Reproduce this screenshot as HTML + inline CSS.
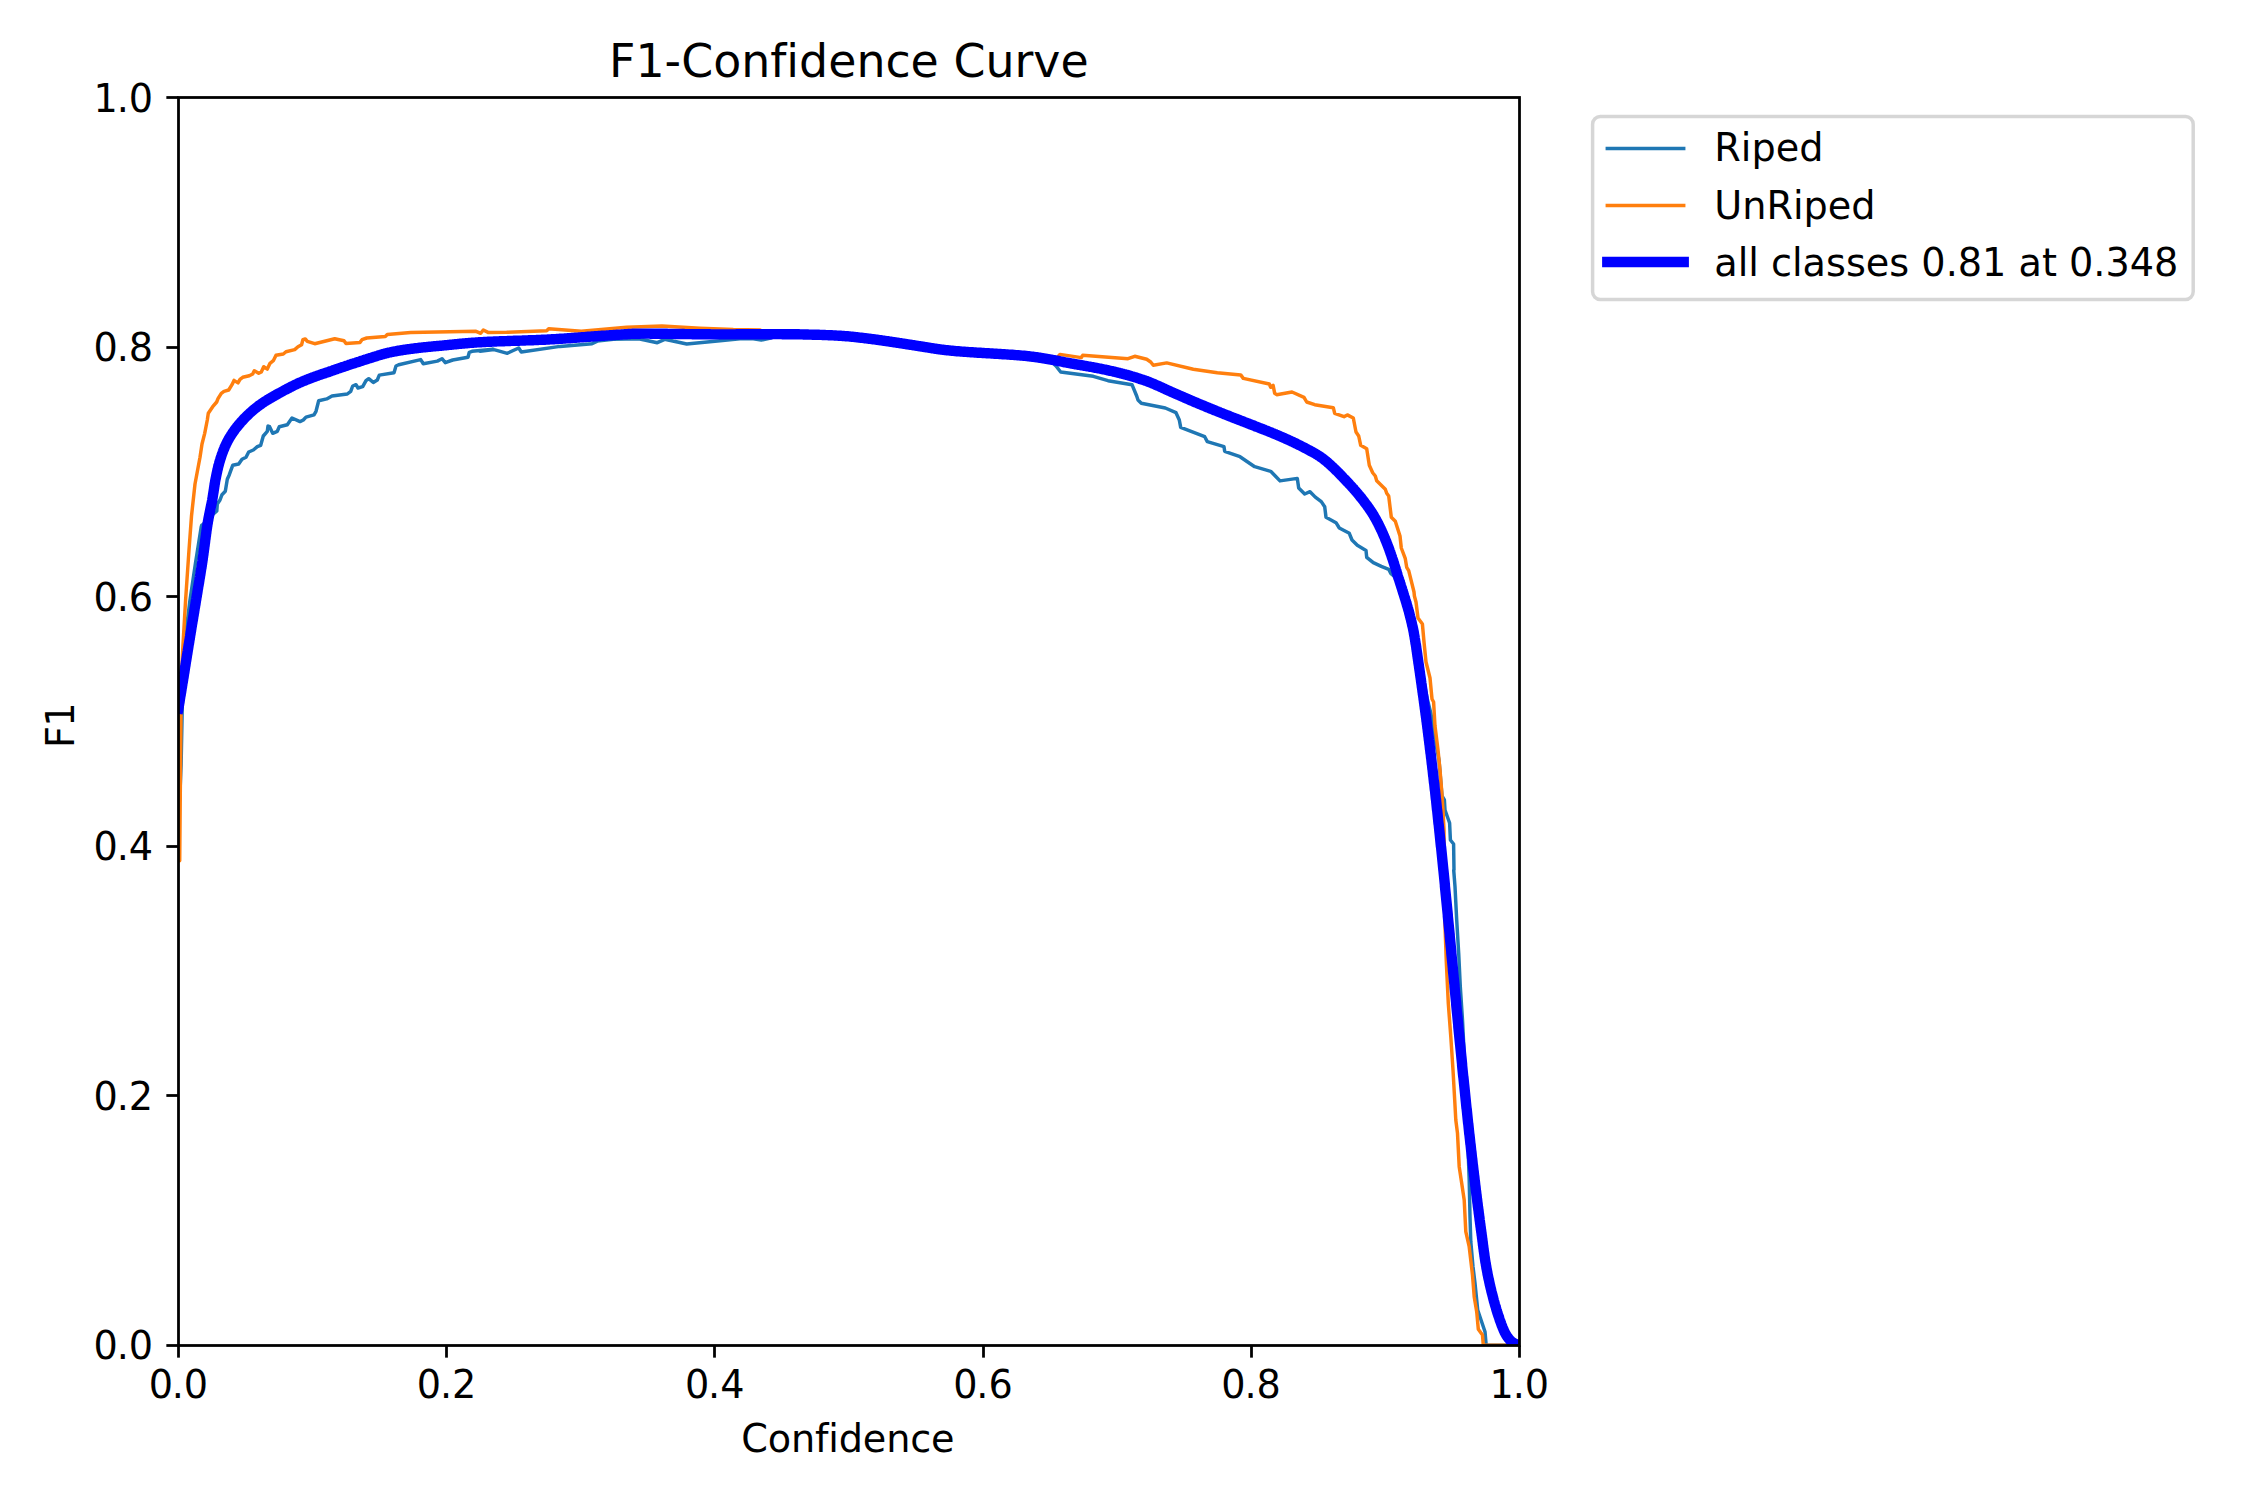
<!DOCTYPE html>
<html lang="en">
<head>
<meta charset="utf-8">
<title>F1-Confidence Curve</title>
<style>
html,body{margin:0;padding:0;background:#fff;}
body{width:2250px;height:1500px;overflow:hidden;}
svg{display:block;}
text{font-family:'DejaVu Sans','Liberation Sans',sans-serif;fill:#000;font-variant-ligatures:none;font-feature-settings:"liga" 0,"clig" 0;}
.t{font-size:38.194px;}
.tt{font-size:45.833px;}
</style>
</head>
<body>
<svg width="2250" height="1500" viewBox="0 0 2250 1500">
<rect x="0" y="0" width="2250" height="1500" fill="#ffffff"/>
<defs><clipPath id="axclip"><rect x="178.40" y="97.50" width="1340.90" height="1247.80"/></clipPath></defs>
<g stroke="#000" stroke-width="2.778" fill="none">
<line x1="178.5" y1="1345.5" x2="178.5" y2="1357.65"/><line x1="178.5" y1="1345.5" x2="166.35" y2="1345.5"/>
<line x1="446.5" y1="1345.5" x2="446.5" y2="1357.65"/><line x1="178.5" y1="1095.5" x2="166.35" y2="1095.5"/>
<line x1="714.5" y1="1345.5" x2="714.5" y2="1357.65"/><line x1="178.5" y1="846.5" x2="166.35" y2="846.5"/>
<line x1="983.5" y1="1345.5" x2="983.5" y2="1357.65"/><line x1="178.5" y1="596.5" x2="166.35" y2="596.5"/>
<line x1="1251.5" y1="1345.5" x2="1251.5" y2="1357.65"/><line x1="178.5" y1="347.5" x2="166.35" y2="347.5"/>
<line x1="1519.5" y1="1345.5" x2="1519.5" y2="1357.65"/><line x1="178.5" y1="97.5" x2="166.35" y2="97.5"/>
</g>
<g class="t" text-anchor="middle">
<text x="178.40" y="1397.63" dx="0 -1.2">0.0</text><text x="446.58" y="1397.63" dx="0 -1.2">0.2</text><text x="714.76" y="1397.63" dx="0 -1.2">0.4</text><text x="982.94" y="1397.63" dx="0 -1.2">0.6</text><text x="1251.12" y="1397.63" dx="0 -1.2">0.8</text><text x="1519.30" y="1397.63" dx="0 -1.2">1.0</text>
</g>
<g class="t" text-anchor="end">
<text x="153.09" y="1359.41" dx="0 -1.2">0.0</text><text x="153.09" y="1109.85" dx="0 -1.2">0.2</text><text x="153.09" y="860.29" dx="0 -1.2">0.4</text><text x="153.09" y="610.73" dx="0 -1.2">0.6</text><text x="153.09" y="361.17" dx="0 -1.2">0.8</text><text x="153.09" y="111.61" dx="0 -1.2">1.0</text>
</g>
<text class="t" text-anchor="middle" letter-spacing="-0.17" x="847.85" y="1451.58">Confidence</text>
<text class="t" text-anchor="middle" dx="0 -0.85" transform="translate(73.92 725.18) rotate(-90)">F1</text>
<text class="tt" text-anchor="middle" x="848.85" y="76.67">F1-Confidence Curve</text>
<g clip-path="url(#axclip)" fill="none" stroke-linejoin="round" stroke-linecap="square">
<path stroke="#1f77b4" stroke-width="3.472" d="M178.4 800.0L179.7 800.0L181.1 765.0L182.4 700.0L184.0 662.0L186.5 628.0L190.0 600.0L195.5 563.0L201.2 527.0L201.8 525.0L203.0 524.5L210.0 517.0L216.8 511.0L217.3 504.0L220.0 500.0L222.0 494.7L225.3 491.3L227.3 479.3L229.3 474.7L232.7 465.3L238.7 464.0L242.0 459.3L246.0 457.3L248.7 452.0L253.3 450.0L257.3 446.7L260.7 445.3L263.3 436.0L267.3 431.3L268.0 426.0L269.6 426.7L272.7 433.3L277.3 431.3L279.3 426.7L287.3 424.7L292.0 418.0L300.0 421.6L303.3 420.0L306.0 417.1L314.0 414.9L316.0 411.3L318.7 400.7L326.7 398.9L332.0 396.0L347.3 394.0L350.7 391.3L352.7 386.0L356.0 384.7L358.0 388.0L362.7 386.7L366.0 380.7L368.7 378.7L373.3 382.4L377.3 380.0L379.3 375.1L394.0 372.7L396.0 366.0L398.7 364.7L420.7 359.6L423.3 363.7L437.3 361.1L442.0 358.7L445.3 362.7L452.7 360.0L468.0 357.3L469.3 352.3L472.0 351.3L493.3 349.3L480.0 351.3L494.0 349.6L507.3 353.3L518.7 348.0L521.3 352.0L560.0 346.4L592.0 343.7L597.3 341.1L613.3 339.3L638.7 338.7L657.3 342.7L664.7 339.3L686.7 344.0L720.0 340.7L740.0 338.7L753.3 338.7L761.3 340.0L770.7 338.0L774.7 335.6L778.7 335.6L782.7 335.6L786.7 335.7L790.7 335.7L794.7 335.8L798.7 335.8L802.7 335.9L806.7 336.0L810.7 336.1L814.7 336.2L818.7 336.3L822.7 336.4L826.7 336.6L830.7 336.8L834.7 336.9L838.7 337.2L842.7 337.4L846.7 337.7L850.7 338.1L854.7 338.5L858.7 339.0L862.7 339.4L866.7 339.9L870.7 340.4L874.7 340.9L878.7 341.5L882.7 342.1L886.7 342.6L890.7 343.2L894.7 343.8L898.7 344.4L902.7 345.1L906.7 345.7L910.7 346.3L914.7 346.9L918.7 347.6L922.7 348.2L926.7 348.8L930.7 349.5L934.7 350.1L938.7 350.7L942.7 351.3L946.7 351.8L950.7 352.2L954.7 352.5L958.7 352.8L962.7 353.2L966.7 353.4L970.7 353.7L974.7 354.0L978.7 354.2L982.7 354.5L986.7 354.7L990.7 354.9L994.7 355.2L998.7 355.4L1002.7 355.7L1006.7 355.9L1010.7 356.2L1014.7 356.5L1018.7 356.8L1022.7 357.1L1026.7 357.5L1030.7 357.9L1034.7 358.5L1038.7 359.0L1042.7 359.7L1046.7 360.3L1050.7 361.0L1056.0 366.0L1060.7 372.0L1093.3 376.3L1108.0 380.7L1132.0 384.7L1136.7 396.0L1138.0 400.0L1141.3 403.3L1165.3 408.0L1176.0 412.7L1179.3 420.0L1180.7 427.3L1204.7 436.7L1207.3 441.6L1224.0 446.7L1224.7 451.3L1240.0 456.7L1254.7 466.7L1270.7 471.3L1276.0 476.7L1280.0 480.9L1297.3 478.4L1298.7 488.0L1304.7 494.0L1310.0 491.7L1315.3 497.1L1321.3 501.6L1324.7 506.7L1326.0 517.3L1336.0 522.7L1339.3 528.0L1349.3 533.3L1352.0 540.0L1357.3 545.3L1366.0 550.4L1366.7 557.3L1373.3 562.7L1381.3 566.4L1388.7 569.3L1390.7 573.3L1400.0 581.0L1406.0 602.0L1415.0 632.0L1422.0 672.0L1427.5 700.0L1431.0 714.0L1434.0 734.0L1439.0 760.0L1442.0 796.0L1444.4 800.0L1445.0 810.0L1449.6 823.0L1450.4 840.0L1453.6 844.0L1454.0 870.0L1453.7 870.0L1455.0 886.7L1456.7 920.0L1458.7 953.3L1460.3 986.7L1462.5 1020.0L1465.0 1070.0L1467.0 1120.0L1469.2 1180.0L1470.0 1216.7L1470.8 1241.7L1473.0 1266.7L1475.0 1283.3L1477.7 1310.0L1485.0 1331.7L1486.2 1345.3L1519.3 1345.3"/>
<path stroke="#ff7f0e" stroke-width="3.472" d="M178.4 860.8L179.7 860.8L181.1 700.0L182.4 655.0L185.6 600.0L189.0 550.0L191.5 516.0L195.0 484.0L200.0 457.3L202.0 444.0L204.7 433.3L207.3 420.0L208.3 413.3L212.7 406.7L216.7 402.0L218.0 398.7L221.3 393.3L224.0 391.3L228.7 390.0L232.0 384.7L234.0 380.4L238.0 382.9L240.0 379.3L242.7 377.3L249.3 375.7L252.7 374.0L254.3 370.7L258.7 373.3L261.3 372.0L263.7 366.7L267.3 369.1L270.0 363.3L273.3 360.7L276.0 355.3L283.3 354.0L286.0 351.7L294.7 349.6L298.0 346.7L301.6 344.7L302.9 339.7L305.3 338.9L307.3 341.3L314.7 343.7L334.7 338.7L344.0 340.7L346.0 343.6L360.0 342.4L362.0 339.7L366.7 338.0L385.3 336.4L387.3 334.4L410.7 332.4L476.0 331.3L480.7 333.3L483.3 330.0L488.0 332.4L506.7 332.3L546.7 330.7L548.7 328.7L581.3 331.3L626.7 327.3L662.0 326.0L700.0 328.3L733.3 329.6L760.0 330.0L764.0 332.7L768.0 332.7L772.0 332.6L776.0 332.6L780.0 332.6L784.0 332.6L788.0 332.7L792.0 332.7L796.0 332.8L800.0 332.9L804.0 333.0L808.0 333.0L812.0 333.1L816.0 333.2L820.0 333.3L824.0 333.5L828.0 333.6L832.0 333.8L836.0 334.0L840.0 334.2L844.0 334.5L848.0 334.8L852.0 335.2L856.0 335.7L860.0 336.1L864.0 336.6L868.0 337.1L872.0 337.6L876.0 338.1L880.0 338.7L884.0 339.2L888.0 339.8L892.0 340.4L896.0 341.0L900.0 341.6L904.0 342.3L908.0 342.9L912.0 343.5L916.0 344.1L920.0 344.8L924.0 345.4L928.0 346.1L932.0 346.7L936.0 347.3L940.0 347.9L944.0 348.5L948.0 348.9L952.0 349.3L956.0 349.6L960.0 350.0L964.0 350.3L968.0 350.5L972.0 350.8L976.0 351.1L980.0 351.3L984.0 351.6L988.0 351.8L992.0 352.0L996.0 352.2L1000.0 352.5L1004.0 352.8L1008.0 353.0L1012.0 353.3L1016.0 353.6L1020.0 353.9L1024.0 354.2L1028.0 354.6L1032.0 355.1L1036.0 355.7L1040.0 356.3L1044.0 356.9L1048.0 357.6L1052.0 358.3L1056.0 359.0L1060.0 354.4L1081.3 357.6L1082.7 355.3L1128.0 358.7L1134.7 356.3L1146.7 359.3L1150.7 362.0L1153.3 365.3L1166.7 362.9L1193.3 369.3L1217.3 372.7L1240.7 374.9L1243.3 378.4L1269.3 384.0L1270.7 387.3L1273.1 385.3L1274.7 393.3L1276.7 394.7L1292.0 392.0L1304.0 397.3L1306.7 402.0L1314.7 404.7L1333.3 407.7L1334.7 413.3L1344.0 416.7L1347.3 414.9L1353.3 418.0L1356.0 432.0L1358.7 436.0L1360.7 445.3L1366.7 448.7L1369.3 465.3L1372.7 472.7L1375.3 476.0L1376.7 480.7L1385.3 489.3L1386.7 493.3L1388.7 496.0L1391.3 517.3L1395.3 521.3L1400.0 536.0L1401.3 548.0L1405.3 558.7L1406.7 567.3L1408.7 570.7L1410.7 578.7L1414.0 592.0L1414.4 596.0L1416.0 602.0L1418.0 618.0L1422.4 624.0L1424.0 642.0L1426.0 662.0L1430.0 678.0L1432.0 699.0L1433.6 702.0L1435.0 726.0L1438.0 750.0L1440.0 770.0L1441.6 790.0L1443.0 810.0L1444.0 830.0L1444.8 920.0L1446.3 961.7L1448.3 1003.3L1450.8 1036.7L1453.0 1070.0L1454.7 1100.0L1455.8 1120.0L1457.5 1133.3L1459.2 1166.7L1461.7 1183.3L1464.2 1200.0L1465.8 1231.7L1469.2 1246.7L1472.5 1275.0L1474.2 1296.7L1476.7 1311.7L1478.3 1329.2L1482.5 1335.0L1483.3 1345.3L1519.3 1345.3"/>
<path stroke="#0000ff" stroke-width="10.417" d="M178.4 708.5L178.6 707.4L178.8 706.4L178.9 705.4L179.1 704.4L179.2 703.4L179.4 702.5L179.6 701.5L179.7 700.5L179.9 699.6L180.0 698.6L180.2 697.6L180.3 696.6L180.5 695.7L180.7 694.7L180.8 693.7L181.0 692.7L181.2 691.7L181.3 690.7L181.5 689.8L181.6 688.8L181.8 687.8L182.0 686.8L182.1 685.8L182.3 684.8L182.4 683.8L182.6 682.8L182.8 681.9L182.9 680.9L183.1 679.9L183.2 678.9L183.4 677.9L183.6 676.9L183.7 675.9L183.9 674.9L184.0 674.0L184.2 673.0L184.4 672.0L184.5 671.0L184.7 670.0L184.8 669.0L185.0 668.0L185.1 667.0L185.3 666.1L185.5 665.1L185.6 664.1L185.8 663.1L185.9 662.1L186.1 661.1L186.3 660.1L186.4 659.1L186.6 658.2L186.7 657.2L186.9 656.2L187.0 655.2L187.2 654.2L187.4 653.2L187.5 652.2L187.7 651.2L187.8 650.3L188.0 649.3L188.2 648.3L188.3 647.3L188.5 646.3L188.6 645.3L188.8 644.3L189.0 643.4L189.1 642.4L189.3 641.4L189.4 640.4L189.6 639.4L189.8 638.4L189.9 637.4L190.1 636.4L190.2 635.5L190.4 634.5L190.6 633.5L190.7 632.5L190.9 631.5L191.1 630.5L191.2 629.5L191.4 628.5L191.5 627.6L191.7 626.6L191.9 625.6L192.0 624.6L192.2 623.6L192.4 622.6L192.5 621.6L192.7 620.7L192.9 619.7L193.0 618.7L193.2 617.7L193.3 616.7L193.5 615.7L193.7 614.7L193.8 613.7L194.0 612.8L194.2 611.8L194.3 610.8L194.5 609.8L194.6 608.8L194.8 607.8L195.0 606.8L195.1 605.9L195.3 604.9L195.5 603.9L195.6 602.9L195.8 601.9L195.9 600.9L196.1 599.9L196.3 598.9L196.4 598.0L196.6 597.0L196.8 596.0L196.9 595.0L197.1 594.0L197.3 593.0L197.4 592.0L197.6 591.1L197.7 590.1L197.9 589.1L198.1 588.1L198.2 587.1L198.4 586.1L198.6 585.1L198.7 584.2L198.9 583.2L199.1 582.2L199.2 581.2L199.4 580.2L199.5 579.2L199.7 578.2L199.9 577.2L200.0 576.3L200.2 575.3L200.4 574.3L200.5 573.3L200.7 572.3L200.8 571.3L201.0 570.3L201.1 569.3L201.3 568.4L201.5 567.4L201.6 566.4L201.8 565.4L201.9 564.4L202.1 563.4L202.2 562.4L202.4 561.4L202.5 560.5L202.7 559.5L202.8 558.5L202.9 557.5L203.1 556.5L203.2 555.5L203.4 554.5L203.5 553.5L203.6 552.5L203.8 551.5L203.9 550.5L204.0 549.6L204.2 548.6L204.3 547.6L204.4 546.6L204.6 545.6L204.7 544.6L204.8 543.6L205.0 542.6L205.1 541.6L205.2 540.6L205.3 539.6L205.5 538.7L205.6 537.7L205.7 536.7L205.9 535.7L206.0 534.7L206.1 533.7L206.3 532.7L206.4 531.7L206.5 530.7L206.7 529.7L206.8 528.7L207.0 527.8L207.1 526.8L207.3 525.8L207.4 524.8L207.6 523.8L207.8 522.8L207.9 521.8L208.1 520.8L208.3 519.9L208.4 518.9L208.6 517.9L208.8 516.9L209.0 515.9L209.2 515.0L209.4 514.0L209.6 513.0L209.8 512.0L210.0 511.0L210.2 510.1L210.4 509.1L210.6 508.1L210.8 507.1L211.0 506.1L211.2 505.2L211.4 504.2L211.6 503.2L211.8 502.2L212.0 501.2L212.2 500.2L212.3 499.3L212.5 498.3L212.7 497.3L212.8 496.3L213.0 495.3L213.1 494.3L213.3 493.3L213.4 492.4L213.6 491.4L213.7 490.4L213.9 489.4L214.0 488.4L214.2 487.4L214.3 486.4L214.5 485.4L214.6 484.4L214.8 483.5L215.0 482.5L215.1 481.5L215.3 480.5L215.5 479.5L215.7 478.5L215.9 477.6L216.1 476.6L216.3 475.6L216.5 474.6L216.7 473.6L216.9 472.7L217.1 471.7L217.3 470.7L217.5 469.7L217.8 468.8L218.0 467.8L218.2 466.8L218.5 465.8L218.7 464.9L219.0 463.9L219.2 463.0L219.5 462.0L219.8 461.0L220.1 460.1L220.4 459.1L220.7 458.2L221.0 457.2L221.3 456.3L221.6 455.3L221.9 454.4L222.3 453.4L222.6 452.5L223.0 451.6L223.3 450.6L223.7 449.7L224.1 448.8L224.5 447.8L224.8 446.9L225.2 446.0L225.7 445.1L226.1 444.2L226.5 443.3L227.0 442.4L227.4 441.5L227.9 440.6L228.4 439.8L228.8 438.9L229.3 438.0L229.8 437.2L230.4 436.3L230.9 435.5L231.4 434.6L232.0 433.8L232.5 433.0L233.1 432.1L233.7 431.3L234.3 430.5L234.8 429.7L235.4 428.9L236.0 428.1L236.7 427.3L237.3 426.5L237.9 425.8L238.5 425.0L239.2 424.2L239.8 423.5L240.5 422.7L241.1 421.9L241.8 421.2L242.5 420.5L243.2 419.7L243.8 419.0L244.5 418.3L245.2 417.6L245.9 416.9L246.6 416.2L247.4 415.5L248.1 414.8L248.8 414.1L249.5 413.4L250.3 412.7L251.0 412.1L251.8 411.4L252.5 410.7L253.3 410.1L254.0 409.4L254.8 408.8L255.6 408.2L256.4 407.6L257.2 406.9L258.0 406.3L258.7 405.7L259.6 405.1L260.4 404.6L261.2 404.0L262.0 403.4L262.8 402.8L263.7 402.3L264.5 401.7L265.3 401.2L266.2 400.7L267.0 400.1L267.9 399.6L268.7 399.1L269.6 398.6L270.4 398.1L271.3 397.6L272.2 397.1L273.0 396.6L273.9 396.1L274.8 395.6L275.6 395.1L276.5 394.6L277.4 394.1L278.3 393.6L279.1 393.2L280.0 392.7L280.9 392.2L281.8 391.7L282.7 391.2L283.5 390.8L284.4 390.3L285.3 389.8L286.2 389.4L287.1 388.9L288.0 388.4L288.9 388.0L289.7 387.5L290.6 387.1L291.5 386.6L292.4 386.2L293.3 385.7L294.2 385.3L295.1 384.8L296.0 384.4L296.9 384.0L297.8 383.6L298.7 383.1L299.6 382.7L300.6 382.3L301.5 381.9L302.4 381.5L303.3 381.1L304.2 380.8L305.2 380.4L306.1 380.0L307.0 379.6L307.9 379.3L308.9 378.9L309.8 378.5L310.7 378.2L311.7 377.8L312.6 377.5L313.6 377.1L314.5 376.8L315.4 376.5L316.4 376.1L317.3 375.8L318.3 375.4L319.2 375.1L320.1 374.8L321.1 374.5L322.0 374.1L323.0 373.8L323.9 373.5L324.9 373.2L325.8 372.8L326.8 372.5L327.7 372.2L328.7 371.9L329.6 371.5L330.5 371.2L331.5 370.9L332.4 370.6L333.4 370.2L334.3 369.9L335.3 369.6L336.2 369.3L337.2 368.9L338.1 368.6L339.1 368.3L340.0 368.0L341.0 367.6L341.9 367.3L342.8 367.0L343.8 366.7L344.7 366.4L345.7 366.0L346.6 365.7L347.6 365.4L348.5 365.1L349.5 364.8L350.4 364.4L351.4 364.1L352.3 363.8L353.3 363.5L354.2 363.2L355.2 362.9L356.1 362.6L357.1 362.3L358.0 362.0L359.0 361.7L359.9 361.4L360.9 361.0L361.8 360.7L362.8 360.4L363.7 360.1L364.7 359.8L365.6 359.5L366.6 359.2L367.5 358.9L368.5 358.6L369.5 358.3L370.4 358.0L371.4 357.7L372.3 357.4L373.3 357.1L374.2 356.8L375.2 356.5L376.1 356.2L377.1 355.9L378.0 355.6L379.0 355.3L380.0 355.0L380.9 354.7L381.9 354.4L382.8 354.2L383.8 353.9L384.8 353.7L385.7 353.4L386.7 353.2L387.7 352.9L388.6 352.7L389.6 352.5L390.6 352.3L391.6 352.0L392.5 351.8L393.5 351.6L394.5 351.5L395.5 351.3L396.5 351.1L397.5 350.9L398.4 350.7L399.4 350.6L400.4 350.4L401.4 350.3L402.4 350.1L403.4 349.9L404.4 349.8L405.4 349.6L406.3 349.5L407.3 349.4L408.3 349.2L409.3 349.1L410.3 349.0L411.3 348.8L412.3 348.7L413.3 348.6L414.3 348.4L415.3 348.3L416.3 348.2L417.3 348.1L418.2 348.0L419.2 347.8L420.2 347.7L421.2 347.6L422.2 347.5L423.2 347.4L424.2 347.3L425.2 347.2L426.2 347.1L427.2 347.0L428.2 346.9L429.2 346.8L430.2 346.7L431.2 346.6L432.2 346.5L433.2 346.4L434.2 346.3L435.2 346.2L436.2 346.1L437.1 346.0L438.1 346.0L439.1 345.9L440.1 345.8L441.1 345.7L442.1 345.6L443.1 345.5L444.1 345.4L445.1 345.3L446.1 345.2L447.1 345.1L448.1 345.0L449.1 344.9L450.1 344.8L451.1 344.7L452.1 344.6L453.1 344.5L454.1 344.4L455.1 344.3L456.1 344.2L457.1 344.1L458.0 344.0L459.0 343.9L460.0 343.8L461.0 343.7L462.0 343.6L463.0 343.5L464.0 343.5L465.0 343.4L466.0 343.3L467.0 343.2L468.0 343.1L469.0 343.0L470.0 342.9L471.0 342.9L472.0 342.8L473.0 342.7L474.0 342.6L475.0 342.6L476.0 342.5L477.0 342.4L478.0 342.4L479.0 342.3L480.0 342.2L481.0 342.2L482.0 342.1L483.0 342.1L484.0 342.0L485.0 342.0L486.0 341.9L487.0 341.9L488.0 341.8L489.0 341.8L490.0 341.7L491.0 341.7L492.0 341.6L493.0 341.6L494.0 341.5L495.0 341.5L496.0 341.5L497.0 341.4L498.0 341.4L499.0 341.4L500.0 341.3L501.0 341.3L502.0 341.2L503.0 341.2L504.0 341.2L505.0 341.1L505.9 341.1L506.9 341.1L507.9 341.0L508.9 341.0L509.9 341.0L510.9 340.9L511.9 340.9L512.9 340.9L513.9 340.8L514.9 340.8L515.9 340.8L516.9 340.7L517.9 340.7L518.9 340.7L519.9 340.6L520.9 340.6L521.9 340.6L522.9 340.5L523.9 340.5L524.9 340.5L525.9 340.4L526.9 340.4L527.9 340.4L528.9 340.3L529.9 340.3L530.9 340.3L531.9 340.2L532.9 340.2L533.9 340.1L534.9 340.1L535.9 340.1L536.9 340.0L537.9 340.0L538.9 339.9L539.9 339.9L540.9 339.9L541.9 339.8L542.9 339.8L543.9 339.7L544.9 339.7L545.9 339.6L546.9 339.6L547.9 339.5L548.9 339.5L549.9 339.4L550.9 339.4L551.9 339.3L552.9 339.3L553.9 339.2L554.9 339.1L555.9 339.1L556.9 339.0L557.9 339.0L558.9 338.9L559.9 338.8L560.9 338.8L561.9 338.7L562.9 338.6L563.9 338.6L564.9 338.5L565.9 338.4L566.9 338.4L567.9 338.3L568.9 338.2L569.9 338.2L570.9 338.1L571.9 338.0L572.9 337.9L573.9 337.9L574.9 337.8L575.9 337.7L576.9 337.6L577.9 337.6L578.9 337.5L579.8 337.4L580.8 337.4L581.8 337.3L582.8 337.2L583.8 337.1L584.8 337.1L585.8 337.0L586.8 336.9L587.8 336.8L588.8 336.8L589.8 336.7L590.8 336.6L591.8 336.5L592.8 336.5L593.8 336.4L594.8 336.3L595.8 336.2L596.8 336.2L597.8 336.1L598.8 336.0L599.8 336.0L600.8 335.9L601.8 335.8L602.8 335.8L603.8 335.7L604.8 335.6L605.8 335.6L606.8 335.5L607.8 335.4L608.8 335.4L609.8 335.3L610.8 335.2L611.8 335.2L612.8 335.1L613.8 335.0L614.8 335.0L615.8 334.9L616.8 334.8L617.8 334.8L618.8 334.7L619.8 334.6L620.7 334.6L621.7 334.5L622.7 334.4L623.7 334.4L624.7 334.3L625.7 334.2L626.7 334.2L627.7 334.1L628.7 334.0L629.7 334.0L630.7 333.9L631.7 333.9L632.7 333.8L633.7 333.8L634.7 333.8L635.7 333.7L636.7 333.7L637.7 333.7L638.7 333.7L639.7 333.7L640.7 333.6L641.7 333.6L642.7 333.6L643.7 333.6L644.7 333.6L645.7 333.6L646.7 333.6L647.7 333.6L648.7 333.6L649.7 333.6L650.7 333.7L651.7 333.7L652.7 333.7L653.7 333.7L654.7 333.7L655.7 333.7L656.7 333.7L657.7 333.7L658.7 333.7L659.7 333.7L660.7 333.8L661.7 333.8L662.7 333.8L663.7 333.8L664.7 333.8L665.7 333.8L666.7 333.8L667.7 333.9L668.7 333.9L669.7 333.9L670.7 333.9L671.7 333.9L672.7 333.9L673.7 333.9L674.7 333.9L675.7 334.0L676.7 334.0L677.7 334.0L678.7 334.0L679.7 334.0L680.7 334.0L681.7 334.0L682.7 334.0L683.7 334.0L684.7 334.1L685.7 334.1L686.7 334.1L687.7 334.1L688.7 334.1L689.7 334.1L690.7 334.1L691.7 334.1L692.7 334.2L693.7 334.2L694.7 334.2L695.7 334.2L696.7 334.2L697.7 334.2L698.7 334.2L699.7 334.2L700.7 334.3L701.7 334.3L702.7 334.3L703.7 334.3L704.7 334.3L705.7 334.3L706.7 334.3L707.7 334.3L708.7 334.3L709.7 334.3L710.7 334.4L711.7 334.4L712.7 334.4L713.7 334.4L714.7 334.4L715.7 334.4L716.7 334.4L717.7 334.4L718.7 334.4L719.7 334.4L720.7 334.4L721.7 334.4L722.7 334.4L723.7 334.4L724.7 334.4L725.7 334.4L726.7 334.4L727.7 334.4L728.7 334.4L729.7 334.4L730.7 334.4L731.7 334.4L732.7 334.4L733.7 334.4L734.7 334.4L735.7 334.4L736.7 334.3L737.7 334.3L738.7 334.3L739.7 334.3L740.7 334.3L741.7 334.3L742.7 334.3L743.7 334.3L744.7 334.3L745.7 334.3L746.7 334.3L747.7 334.3L748.7 334.3L749.7 334.3L750.7 334.3L751.7 334.3L752.7 334.2L753.7 334.2L754.7 334.2L755.7 334.2L756.7 334.2L757.7 334.2L758.7 334.2L759.7 334.2L760.7 334.2L761.7 334.2L762.7 334.2L763.7 334.2L764.7 334.2L765.7 334.2L766.7 334.2L767.7 334.2L768.7 334.2L769.7 334.2L770.7 334.2L771.7 334.2L772.7 334.1L773.7 334.1L774.7 334.1L775.7 334.1L776.7 334.1L777.7 334.1L778.7 334.1L779.7 334.1L780.7 334.1L781.7 334.1L782.7 334.2L783.7 334.2L784.7 334.2L785.7 334.2L786.7 334.2L787.7 334.2L788.7 334.2L789.7 334.2L790.7 334.2L791.7 334.2L792.7 334.2L793.7 334.3L794.7 334.3L795.7 334.3L796.7 334.3L797.7 334.3L798.7 334.3L799.7 334.4L800.7 334.4L801.7 334.4L802.7 334.4L803.7 334.5L804.7 334.5L805.7 334.5L806.7 334.5L807.7 334.5L808.7 334.6L809.7 334.6L810.7 334.6L811.7 334.6L812.7 334.7L813.7 334.7L814.7 334.7L815.7 334.7L816.7 334.8L817.7 334.8L818.7 334.8L819.7 334.9L820.7 334.9L821.7 334.9L822.7 335.0L823.7 335.0L824.7 335.0L825.7 335.1L826.7 335.1L827.7 335.1L828.7 335.2L829.7 335.2L830.7 335.3L831.7 335.3L832.7 335.4L833.7 335.4L834.7 335.5L835.7 335.5L836.7 335.6L837.7 335.6L838.7 335.7L839.7 335.8L840.7 335.8L841.7 335.9L842.7 336.0L843.7 336.0L844.7 336.1L845.7 336.2L846.7 336.3L847.7 336.3L848.7 336.4L849.7 336.5L850.6 336.6L851.6 336.7L852.6 336.8L853.6 336.9L854.6 337.0L855.6 337.1L856.6 337.2L857.6 337.4L858.6 337.5L859.6 337.6L860.6 337.7L861.6 337.8L862.6 337.9L863.6 338.0L864.6 338.2L865.6 338.3L866.5 338.4L867.5 338.5L868.5 338.6L869.5 338.8L870.5 338.9L871.5 339.0L872.5 339.2L873.5 339.3L874.5 339.4L875.5 339.5L876.5 339.7L877.5 339.8L878.4 340.0L879.4 340.1L880.4 340.2L881.4 340.4L882.4 340.5L883.4 340.7L884.4 340.8L885.4 341.0L886.4 341.1L887.4 341.2L888.3 341.4L889.3 341.5L890.3 341.7L891.3 341.8L892.3 342.0L893.3 342.1L894.3 342.3L895.3 342.4L896.3 342.6L897.2 342.7L898.2 342.9L899.2 343.0L900.2 343.2L901.2 343.3L902.2 343.5L903.2 343.6L904.2 343.8L905.1 343.9L906.1 344.1L907.1 344.3L908.1 344.4L909.1 344.6L910.1 344.7L911.1 344.9L912.1 345.0L913.1 345.2L914.0 345.3L915.0 345.5L916.0 345.6L917.0 345.8L918.0 346.0L919.0 346.1L920.0 346.3L921.0 346.4L921.9 346.6L922.9 346.7L923.9 346.9L924.9 347.1L925.9 347.2L926.9 347.4L927.9 347.5L928.9 347.7L929.8 347.9L930.8 348.0L931.8 348.2L932.8 348.3L933.8 348.5L934.8 348.6L935.8 348.8L936.8 348.9L937.7 349.1L938.7 349.2L939.7 349.4L940.7 349.5L941.7 349.6L942.7 349.7L943.7 349.9L944.7 350.0L945.7 350.1L946.7 350.2L947.7 350.3L948.7 350.4L949.7 350.5L950.7 350.6L951.6 350.7L952.6 350.8L953.6 350.9L954.6 351.0L955.6 351.1L956.6 351.2L957.6 351.2L958.6 351.3L959.6 351.4L960.6 351.5L961.6 351.6L962.6 351.6L963.6 351.7L964.6 351.8L965.6 351.9L966.6 351.9L967.6 352.0L968.6 352.1L969.6 352.1L970.6 352.2L971.6 352.3L972.6 352.3L973.6 352.4L974.6 352.5L975.6 352.5L976.6 352.6L977.6 352.7L978.6 352.7L979.6 352.8L980.6 352.8L981.6 352.9L982.6 353.0L983.6 353.0L984.6 353.1L985.6 353.1L986.6 353.2L987.6 353.3L988.6 353.3L989.6 353.4L990.6 353.4L991.5 353.5L992.5 353.5L993.5 353.6L994.5 353.7L995.5 353.7L996.5 353.8L997.5 353.9L998.5 353.9L999.5 354.0L1000.5 354.0L1001.5 354.1L1002.5 354.2L1003.5 354.2L1004.5 354.3L1005.5 354.4L1006.5 354.4L1007.5 354.5L1008.5 354.6L1009.5 354.6L1010.5 354.7L1011.5 354.8L1012.5 354.8L1013.5 354.9L1014.5 355.0L1015.5 355.1L1016.5 355.1L1017.5 355.2L1018.5 355.3L1019.5 355.4L1020.5 355.5L1021.5 355.6L1022.5 355.6L1023.5 355.7L1024.5 355.8L1025.5 355.9L1026.5 356.0L1027.4 356.1L1028.4 356.2L1029.4 356.4L1030.4 356.5L1031.4 356.6L1032.4 356.7L1033.4 356.8L1034.4 357.0L1035.4 357.1L1036.4 357.2L1037.4 357.4L1038.4 357.5L1039.3 357.7L1040.3 357.8L1041.3 358.0L1042.3 358.1L1043.3 358.3L1044.3 358.5L1045.3 358.6L1046.3 358.8L1047.2 359.0L1048.2 359.1L1049.2 359.3L1050.2 359.5L1051.2 359.6L1052.2 359.8L1053.1 360.0L1054.1 360.2L1055.1 360.4L1056.1 360.6L1057.1 360.7L1058.1 360.9L1059.0 361.1L1060.0 361.3L1061.0 361.5L1062.0 361.7L1063.0 361.9L1063.9 362.1L1064.9 362.3L1065.9 362.5L1066.9 362.7L1067.9 362.9L1068.9 363.0L1069.8 363.2L1070.8 363.4L1071.8 363.6L1072.8 363.7L1073.8 363.9L1074.8 364.1L1075.7 364.3L1076.7 364.4L1077.7 364.6L1078.7 364.8L1079.7 364.9L1080.7 365.1L1081.7 365.3L1082.6 365.4L1083.6 365.6L1084.6 365.8L1085.6 366.0L1086.6 366.1L1087.6 366.3L1088.6 366.5L1089.5 366.7L1090.5 366.8L1091.5 367.0L1092.5 367.2L1093.5 367.4L1094.5 367.6L1095.4 367.8L1096.4 367.9L1097.4 368.1L1098.4 368.3L1099.4 368.5L1100.3 368.7L1101.3 368.9L1102.3 369.1L1103.3 369.3L1104.3 369.5L1105.2 369.7L1106.2 369.9L1107.2 370.1L1108.2 370.4L1109.2 370.6L1110.1 370.8L1111.1 371.0L1112.1 371.2L1113.1 371.4L1114.0 371.7L1115.0 371.9L1116.0 372.1L1116.9 372.4L1117.9 372.6L1118.9 372.8L1119.9 373.1L1120.8 373.3L1121.8 373.6L1122.8 373.8L1123.7 374.1L1124.7 374.3L1125.7 374.6L1126.6 374.8L1127.6 375.1L1128.6 375.4L1129.5 375.6L1130.5 375.9L1131.4 376.2L1132.4 376.5L1133.4 376.8L1134.3 377.1L1135.3 377.3L1136.2 377.6L1137.2 377.9L1138.1 378.2L1139.1 378.5L1140.0 378.9L1141.0 379.2L1141.9 379.5L1142.9 379.8L1143.8 380.1L1144.8 380.5L1145.7 380.8L1146.7 381.1L1147.6 381.5L1148.5 381.8L1149.5 382.2L1150.4 382.6L1151.3 382.9L1152.2 383.3L1153.2 383.7L1154.1 384.1L1155.0 384.5L1155.9 384.9L1156.8 385.3L1157.8 385.7L1158.7 386.1L1159.6 386.5L1160.5 386.9L1161.4 387.3L1162.3 387.8L1163.2 388.2L1164.1 388.6L1165.0 389.0L1165.9 389.4L1166.8 389.8L1167.8 390.3L1168.7 390.7L1169.6 391.1L1170.5 391.5L1171.4 391.9L1172.3 392.3L1173.2 392.7L1174.1 393.1L1175.1 393.5L1176.0 393.9L1176.9 394.3L1177.8 394.7L1178.7 395.1L1179.6 395.5L1180.6 395.9L1181.5 396.3L1182.4 396.7L1183.3 397.1L1184.2 397.5L1185.1 397.9L1186.1 398.3L1187.0 398.7L1187.9 399.1L1188.8 399.5L1189.7 399.9L1190.7 400.3L1191.6 400.7L1192.5 401.1L1193.4 401.5L1194.3 401.9L1195.3 402.3L1196.2 402.6L1197.1 403.0L1198.0 403.4L1198.9 403.8L1199.9 404.2L1200.8 404.6L1201.7 405.0L1202.6 405.3L1203.6 405.7L1204.5 406.1L1205.4 406.5L1206.3 406.9L1207.3 407.3L1208.2 407.6L1209.1 408.0L1210.0 408.4L1211.0 408.8L1211.9 409.1L1212.8 409.5L1213.7 409.9L1214.7 410.3L1215.6 410.6L1216.5 411.0L1217.5 411.4L1218.4 411.8L1219.3 412.1L1220.2 412.5L1221.2 412.9L1222.1 413.2L1223.0 413.6L1224.0 414.0L1224.9 414.4L1225.8 414.7L1226.7 415.1L1227.7 415.5L1228.6 415.8L1229.5 416.2L1230.5 416.6L1231.4 416.9L1232.3 417.3L1233.3 417.7L1234.2 418.0L1235.1 418.4L1236.0 418.7L1237.0 419.1L1237.9 419.5L1238.8 419.8L1239.8 420.2L1240.7 420.6L1241.6 420.9L1242.6 421.3L1243.5 421.6L1244.4 422.0L1245.4 422.4L1246.3 422.7L1247.2 423.1L1248.2 423.5L1249.1 423.8L1250.0 424.2L1251.0 424.5L1251.9 424.9L1252.8 425.3L1253.8 425.6L1254.7 426.0L1255.6 426.4L1256.6 426.7L1257.5 427.1L1258.4 427.4L1259.3 427.8L1260.3 428.2L1261.2 428.5L1262.1 428.9L1263.1 429.3L1264.0 429.6L1264.9 430.0L1265.9 430.4L1266.8 430.7L1267.7 431.1L1268.6 431.5L1269.6 431.9L1270.5 432.2L1271.4 432.6L1272.3 433.0L1273.3 433.4L1274.2 433.8L1275.1 434.1L1276.0 434.5L1277.0 434.9L1277.9 435.3L1278.8 435.7L1279.7 436.1L1280.6 436.5L1281.6 436.9L1282.5 437.3L1283.4 437.7L1284.3 438.1L1285.2 438.5L1286.1 438.9L1287.0 439.3L1287.9 439.7L1288.9 440.2L1289.8 440.6L1290.7 441.0L1291.6 441.4L1292.5 441.8L1293.4 442.3L1294.3 442.7L1295.2 443.1L1296.1 443.6L1297.0 444.0L1297.9 444.5L1298.8 444.9L1299.7 445.3L1300.6 445.8L1301.5 446.2L1302.4 446.7L1303.2 447.2L1304.1 447.6L1305.0 448.1L1305.9 448.5L1306.8 449.0L1307.7 449.5L1308.6 449.9L1309.4 450.4L1310.3 450.9L1311.2 451.4L1312.1 451.8L1313.0 452.3L1313.8 452.8L1314.7 453.3L1315.6 453.8L1316.4 454.3L1317.3 454.8L1318.1 455.3L1319.0 455.9L1319.8 456.4L1320.6 457.0L1321.4 457.6L1322.2 458.2L1323.0 458.7L1323.8 459.4L1324.6 460.0L1325.4 460.6L1326.2 461.2L1326.9 461.9L1327.7 462.5L1328.4 463.2L1329.2 463.9L1329.9 464.5L1330.7 465.2L1331.4 465.9L1332.1 466.6L1332.9 467.2L1333.6 467.9L1334.3 468.6L1335.0 469.3L1335.7 470.0L1336.4 470.7L1337.2 471.4L1337.9 472.1L1338.6 472.8L1339.3 473.6L1340.0 474.3L1340.7 475.0L1341.4 475.7L1342.1 476.4L1342.7 477.1L1343.4 477.9L1344.1 478.6L1344.8 479.3L1345.5 480.0L1346.2 480.8L1346.9 481.5L1347.6 482.2L1348.3 482.9L1349.0 483.7L1349.6 484.4L1350.3 485.1L1351.0 485.9L1351.7 486.6L1352.3 487.4L1353.0 488.1L1353.7 488.8L1354.3 489.6L1355.0 490.4L1355.6 491.1L1356.3 491.9L1356.9 492.6L1357.6 493.4L1358.2 494.2L1358.8 494.9L1359.5 495.7L1360.1 496.5L1360.7 497.3L1361.4 498.0L1362.0 498.8L1362.6 499.6L1363.2 500.4L1363.8 501.2L1364.4 502.0L1365.0 502.8L1365.6 503.6L1366.2 504.4L1366.8 505.2L1367.4 506.0L1368.0 506.8L1368.6 507.6L1369.1 508.4L1369.7 509.3L1370.3 510.1L1370.8 510.9L1371.4 511.8L1371.9 512.6L1372.4 513.4L1373.0 514.3L1373.5 515.1L1374.0 516.0L1374.5 516.9L1375.0 517.7L1375.5 518.6L1376.0 519.5L1376.5 520.4L1376.9 521.2L1377.4 522.1L1377.9 523.0L1378.3 523.9L1378.8 524.8L1379.2 525.7L1379.6 526.6L1380.1 527.5L1380.5 528.4L1380.9 529.3L1381.4 530.2L1381.8 531.1L1382.2 532.0L1382.6 532.9L1383.0 533.8L1383.4 534.8L1383.8 535.7L1384.2 536.6L1384.6 537.5L1385.0 538.4L1385.3 539.4L1385.7 540.3L1386.1 541.2L1386.5 542.2L1386.8 543.1L1387.2 544.0L1387.5 544.9L1387.9 545.9L1388.3 546.8L1388.6 547.8L1389.0 548.7L1389.3 549.6L1389.6 550.6L1390.0 551.5L1390.3 552.5L1390.6 553.4L1391.0 554.3L1391.3 555.3L1391.6 556.2L1391.9 557.2L1392.2 558.1L1392.6 559.1L1392.9 560.0L1393.2 561.0L1393.5 561.9L1393.8 562.9L1394.1 563.8L1394.4 564.8L1394.7 565.7L1395.0 566.7L1395.3 567.7L1395.6 568.6L1395.9 569.6L1396.2 570.5L1396.5 571.5L1396.8 572.4L1397.1 573.4L1397.3 574.3L1397.6 575.3L1397.9 576.3L1398.2 577.2L1398.5 578.2L1398.9 579.1L1399.2 580.1L1399.5 581.0L1399.8 582.0L1400.1 582.9L1400.4 583.9L1400.7 584.8L1401.0 585.8L1401.3 586.7L1401.6 587.7L1401.9 588.6L1402.2 589.6L1402.5 590.5L1402.8 591.5L1403.1 592.4L1403.4 593.4L1403.7 594.3L1404.0 595.3L1404.3 596.3L1404.6 597.2L1404.9 598.2L1405.2 599.1L1405.5 600.1L1405.8 601.0L1406.1 602.0L1406.4 603.0L1406.7 603.9L1406.9 604.9L1407.2 605.8L1407.5 606.8L1407.8 607.8L1408.1 608.7L1408.3 609.7L1408.6 610.6L1408.9 611.6L1409.1 612.6L1409.4 613.5L1409.6 614.5L1409.9 615.5L1410.1 616.4L1410.4 617.4L1410.6 618.4L1410.9 619.3L1411.1 620.3L1411.3 621.3L1411.6 622.3L1411.8 623.2L1412.0 624.2L1412.2 625.2L1412.5 626.2L1412.7 627.1L1412.9 628.1L1413.1 629.1L1413.3 630.1L1413.5 631.1L1413.7 632.0L1413.9 633.0L1414.0 634.0L1414.2 635.0L1414.4 636.0L1414.6 637.0L1414.7 637.9L1414.9 638.9L1415.1 639.9L1415.2 640.9L1415.4 641.9L1415.5 642.9L1415.7 643.9L1415.9 644.8L1416.0 645.8L1416.2 646.8L1416.3 647.8L1416.4 648.8L1416.6 649.8L1416.7 650.8L1416.9 651.8L1417.0 652.8L1417.2 653.8L1417.3 654.7L1417.4 655.7L1417.6 656.7L1417.7 657.7L1417.9 658.7L1418.0 659.7L1418.2 660.7L1418.3 661.7L1418.4 662.7L1418.6 663.7L1418.7 664.6L1418.9 665.6L1419.0 666.6L1419.1 667.6L1419.3 668.6L1419.4 669.6L1419.6 670.6L1419.7 671.6L1419.9 672.6L1420.0 673.5L1420.1 674.5L1420.3 675.5L1420.4 676.5L1420.6 677.5L1420.7 678.5L1420.9 679.5L1421.0 680.5L1421.1 681.5L1421.3 682.5L1421.4 683.4L1421.6 684.4L1421.7 685.4L1421.8 686.4L1422.0 687.4L1422.1 688.4L1422.3 689.4L1422.4 690.4L1422.5 691.4L1422.7 692.4L1422.8 693.4L1422.9 694.3L1423.1 695.3L1423.2 696.3L1423.4 697.3L1423.5 698.3L1423.6 699.3L1423.8 700.3L1423.9 701.3L1424.0 702.3L1424.2 703.3L1424.3 704.2L1424.4 705.2L1424.6 706.2L1424.7 707.2L1424.8 708.2L1425.0 709.2L1425.1 710.2L1425.2 711.2L1425.4 712.2L1425.5 713.2L1425.6 714.2L1425.8 715.2L1425.9 716.1L1426.0 717.1L1426.2 718.1L1426.3 719.1L1426.4 720.1L1426.5 721.1L1426.7 722.1L1426.8 723.1L1426.9 724.1L1427.1 725.1L1427.2 726.1L1427.3 727.1L1427.4 728.0L1427.6 729.0L1427.7 730.0L1427.8 731.0L1427.9 732.0L1428.1 733.0L1428.2 734.0L1428.3 735.0L1428.4 736.0L1428.6 737.0L1428.7 738.0L1428.8 739.0L1428.9 739.9L1429.1 740.9L1429.2 741.9L1429.3 742.9L1429.4 743.9L1429.6 744.9L1429.7 745.9L1429.8 746.9L1429.9 747.9L1430.0 748.9L1430.2 749.9L1430.3 750.9L1430.4 751.9L1430.5 752.9L1430.7 753.8L1430.8 754.8L1430.9 755.8L1431.0 756.8L1431.1 757.8L1431.3 758.8L1431.4 759.8L1431.5 760.8L1431.6 761.8L1431.7 762.8L1431.8 763.8L1432.0 764.8L1432.1 765.8L1432.2 766.8L1432.3 767.7L1432.4 768.7L1432.6 769.7L1432.7 770.7L1432.8 771.7L1432.9 772.7L1433.0 773.7L1433.1 774.7L1433.2 775.7L1433.4 776.7L1433.5 777.7L1433.6 778.7L1433.7 779.7L1433.8 780.7L1433.9 781.7L1434.0 782.6L1434.2 783.6L1434.3 784.6L1434.4 785.6L1434.5 786.6L1434.6 787.6L1434.7 788.6L1434.8 789.6L1435.0 790.6L1435.1 791.6L1435.2 792.6L1435.3 793.6L1435.4 794.6L1435.5 795.6L1435.6 796.6L1435.7 797.5L1435.8 798.5L1436.0 799.5L1436.1 800.5L1436.2 801.5L1436.3 802.5L1436.4 803.5L1436.5 804.5L1436.6 805.5L1436.7 806.5L1436.8 807.5L1436.9 808.5L1437.0 809.5L1437.2 810.5L1437.3 811.5L1437.4 812.5L1437.5 813.5L1437.6 814.4L1437.7 815.4L1437.8 816.4L1437.9 817.4L1438.0 818.4L1438.1 819.4L1438.2 820.4L1438.3 821.4L1438.4 822.4L1438.5 823.4L1438.7 824.4L1438.8 825.4L1438.9 826.4L1439.0 827.4L1439.1 828.4L1439.2 829.4L1439.3 830.4L1439.4 831.4L1439.5 832.3L1439.6 833.3L1439.7 834.3L1439.8 835.3L1439.9 836.3L1440.0 837.3L1440.1 838.3L1440.2 839.3L1440.3 840.3L1440.4 841.3L1440.5 842.3L1440.6 843.3L1440.7 844.3L1440.8 845.3L1440.9 846.3L1441.1 847.3L1441.2 848.3L1441.3 849.3L1441.4 850.2L1441.5 851.2L1441.6 852.2L1441.7 853.2L1441.8 854.2L1441.9 855.2L1442.0 856.2L1442.1 857.2L1442.2 858.2L1442.3 859.2L1442.4 860.2L1442.5 861.2L1442.6 862.2L1442.7 863.2L1442.8 864.2L1442.9 865.2L1443.0 866.2L1443.1 867.2L1443.2 868.2L1443.3 869.2L1443.4 870.1L1443.5 871.1L1443.6 872.1L1443.7 873.1L1443.8 874.1L1443.9 875.1L1444.0 876.1L1444.1 877.1L1444.2 878.1L1444.3 879.1L1444.4 880.1L1444.5 881.1L1444.6 882.1L1444.7 883.1L1444.8 884.1L1444.9 885.1L1444.9 886.1L1445.0 887.1L1445.1 888.1L1445.2 889.1L1445.3 890.1L1445.4 891.0L1445.5 892.0L1445.6 893.0L1445.7 894.0L1445.8 895.0L1445.9 896.0L1446.0 897.0L1446.1 898.0L1446.2 899.0L1446.3 900.0L1446.4 901.0L1446.5 902.0L1446.6 903.0L1446.7 904.0L1446.8 905.0L1446.9 906.0L1447.0 907.0L1447.1 908.0L1447.2 909.0L1447.3 910.0L1447.4 911.0L1447.5 911.9L1447.6 912.9L1447.7 913.9L1447.8 914.9L1447.8 915.9L1447.9 916.9L1448.0 917.9L1448.1 918.9L1448.2 919.9L1448.3 920.9L1448.4 921.9L1448.5 922.9L1448.6 923.9L1448.7 924.9L1448.8 925.9L1448.9 926.9L1449.0 927.9L1449.1 928.9L1449.2 929.9L1449.3 930.9L1449.4 931.9L1449.5 932.9L1449.6 933.8L1449.7 934.8L1449.7 935.8L1449.8 936.8L1449.9 937.8L1450.0 938.8L1450.1 939.8L1450.2 940.8L1450.3 941.8L1450.4 942.8L1450.5 943.8L1450.6 944.8L1450.7 945.8L1450.8 946.8L1450.9 947.8L1451.0 948.8L1451.1 949.8L1451.2 950.8L1451.3 951.8L1451.3 952.8L1451.4 953.8L1451.5 954.8L1451.6 955.8L1451.7 956.7L1451.8 957.7L1451.9 958.7L1452.0 959.7L1452.1 960.7L1452.2 961.7L1452.3 962.7L1452.4 963.7L1452.5 964.7L1452.6 965.7L1452.7 966.7L1452.8 967.7L1452.9 968.7L1452.9 969.7L1453.0 970.7L1453.1 971.7L1453.2 972.7L1453.3 973.7L1453.4 974.7L1453.5 975.7L1453.6 976.7L1453.7 977.7L1453.8 978.6L1453.9 979.6L1454.0 980.6L1454.1 981.6L1454.2 982.6L1454.3 983.6L1454.4 984.6L1454.5 985.6L1454.5 986.6L1454.6 987.6L1454.7 988.6L1454.8 989.6L1454.9 990.6L1455.0 991.6L1455.1 992.6L1455.2 993.6L1455.3 994.6L1455.4 995.6L1455.5 996.6L1455.6 997.6L1455.7 998.6L1455.8 999.6L1455.9 1000.6L1456.0 1001.5L1456.1 1002.5L1456.2 1003.5L1456.2 1004.5L1456.3 1005.5L1456.4 1006.5L1456.5 1007.5L1456.6 1008.5L1456.7 1009.5L1456.8 1010.5L1456.9 1011.5L1457.0 1012.5L1457.1 1013.5L1457.2 1014.5L1457.3 1015.5L1457.4 1016.5L1457.5 1017.5L1457.6 1018.5L1457.7 1019.5L1457.8 1020.5L1457.9 1021.5L1458.0 1022.5L1458.1 1023.4L1458.2 1024.4L1458.3 1025.4L1458.3 1026.4L1458.4 1027.4L1458.5 1028.4L1458.6 1029.4L1458.7 1030.4L1458.8 1031.4L1458.9 1032.4L1459.0 1033.4L1459.1 1034.4L1459.2 1035.4L1459.3 1036.4L1459.4 1037.4L1459.5 1038.4L1459.6 1039.4L1459.7 1040.4L1459.8 1041.4L1459.9 1042.4L1460.0 1043.4L1460.1 1044.3L1460.2 1045.3L1460.3 1046.3L1460.4 1047.3L1460.5 1048.3L1460.6 1049.3L1460.7 1050.3L1460.8 1051.3L1460.9 1052.3L1461.0 1053.3L1461.1 1054.3L1461.2 1055.3L1461.3 1056.3L1461.4 1057.3L1461.5 1058.3L1461.6 1059.3L1461.7 1060.3L1461.8 1061.3L1461.9 1062.3L1462.0 1063.3L1462.1 1064.3L1462.1 1065.2L1462.2 1066.2L1462.3 1067.2L1462.4 1068.2L1462.5 1069.2L1462.6 1070.2L1462.7 1071.2L1462.8 1072.2L1462.9 1073.2L1463.0 1074.2L1463.1 1075.2L1463.2 1076.2L1463.4 1077.2L1463.5 1078.2L1463.6 1079.2L1463.7 1080.2L1463.8 1081.2L1463.9 1082.2L1464.0 1083.2L1464.1 1084.2L1464.2 1085.1L1464.3 1086.1L1464.4 1087.1L1464.5 1088.1L1464.6 1089.1L1464.7 1090.1L1464.8 1091.1L1464.9 1092.1L1465.0 1093.1L1465.1 1094.1L1465.2 1095.1L1465.3 1096.1L1465.4 1097.1L1465.5 1098.1L1465.6 1099.1L1465.7 1100.1L1465.8 1101.1L1465.9 1102.1L1466.0 1103.0L1466.1 1104.0L1466.2 1105.0L1466.3 1106.0L1466.4 1107.0L1466.5 1108.0L1466.7 1109.0L1466.8 1110.0L1466.9 1111.0L1467.0 1112.0L1467.1 1113.0L1467.2 1114.0L1467.3 1115.0L1467.4 1116.0L1467.5 1117.0L1467.6 1118.0L1467.7 1119.0L1467.8 1120.0L1467.9 1120.9L1468.0 1121.9L1468.1 1122.9L1468.3 1123.9L1468.4 1124.9L1468.5 1125.9L1468.6 1126.9L1468.7 1127.9L1468.8 1128.9L1468.9 1129.9L1469.0 1130.9L1469.1 1131.9L1469.2 1132.9L1469.3 1133.9L1469.5 1134.9L1469.6 1135.9L1469.7 1136.9L1469.8 1137.8L1469.9 1138.8L1470.0 1139.8L1470.1 1140.8L1470.2 1141.8L1470.3 1142.8L1470.4 1143.8L1470.6 1144.8L1470.7 1145.8L1470.8 1146.8L1470.9 1147.8L1471.0 1148.8L1471.1 1149.8L1471.2 1150.8L1471.4 1151.8L1471.5 1152.8L1471.6 1153.7L1471.7 1154.7L1471.8 1155.7L1471.9 1156.7L1472.0 1157.7L1472.2 1158.7L1472.3 1159.7L1472.4 1160.7L1472.5 1161.7L1472.6 1162.7L1472.7 1163.7L1472.8 1164.7L1473.0 1165.7L1473.1 1166.7L1473.2 1167.7L1473.3 1168.6L1473.4 1169.6L1473.5 1170.6L1473.7 1171.6L1473.8 1172.6L1473.9 1173.6L1474.0 1174.6L1474.1 1175.6L1474.3 1176.6L1474.4 1177.6L1474.5 1178.6L1474.6 1179.6L1474.7 1180.6L1474.9 1181.6L1475.0 1182.5L1475.1 1183.5L1475.2 1184.5L1475.3 1185.5L1475.5 1186.5L1475.6 1187.5L1475.7 1188.5L1475.8 1189.5L1475.9 1190.5L1476.1 1191.5L1476.2 1192.5L1476.3 1193.5L1476.4 1194.5L1476.6 1195.4L1476.7 1196.4L1476.8 1197.4L1476.9 1198.4L1477.1 1199.4L1477.2 1200.4L1477.3 1201.4L1477.4 1202.4L1477.6 1203.4L1477.7 1204.4L1477.8 1205.4L1477.9 1206.4L1478.1 1207.4L1478.2 1208.3L1478.3 1209.3L1478.5 1210.3L1478.6 1211.3L1478.7 1212.3L1478.8 1213.3L1479.0 1214.3L1479.1 1215.3L1479.2 1216.3L1479.4 1217.3L1479.5 1218.3L1479.6 1219.3L1479.7 1220.2L1479.9 1221.2L1480.0 1222.2L1480.1 1223.2L1480.3 1224.2L1480.4 1225.2L1480.5 1226.2L1480.7 1227.2L1480.8 1228.2L1480.9 1229.2L1481.1 1230.2L1481.2 1231.1L1481.3 1232.1L1481.5 1233.1L1481.6 1234.1L1481.7 1235.1L1481.9 1236.1L1482.0 1237.1L1482.1 1238.1L1482.3 1239.1L1482.4 1240.1L1482.5 1241.1L1482.7 1242.1L1482.8 1243.0L1482.9 1244.0L1483.0 1245.0L1483.2 1246.0L1483.3 1247.0L1483.4 1248.0L1483.6 1249.0L1483.7 1250.0L1483.8 1251.0L1484.0 1252.0L1484.1 1253.0L1484.3 1253.9L1484.4 1254.9L1484.5 1255.9L1484.7 1256.9L1484.8 1257.9L1485.0 1258.9L1485.1 1259.9L1485.3 1260.9L1485.4 1261.9L1485.6 1262.8L1485.8 1263.8L1485.9 1264.8L1486.1 1265.8L1486.3 1266.8L1486.4 1267.8L1486.6 1268.8L1486.8 1269.7L1487.0 1270.7L1487.2 1271.7L1487.4 1272.7L1487.5 1273.7L1487.7 1274.6L1487.9 1275.6L1488.1 1276.6L1488.3 1277.6L1488.5 1278.6L1488.8 1279.5L1489.0 1280.5L1489.2 1281.5L1489.4 1282.5L1489.6 1283.4L1489.8 1284.4L1490.1 1285.4L1490.3 1286.4L1490.5 1287.3L1490.7 1288.3L1491.0 1289.3L1491.2 1290.3L1491.4 1291.2L1491.7 1292.2L1491.9 1293.2L1492.2 1294.1L1492.4 1295.1L1492.7 1296.1L1492.9 1297.1L1493.2 1298.0L1493.4 1299.0L1493.7 1300.0L1493.9 1300.9L1494.2 1301.9L1494.5 1302.8L1494.7 1303.8L1495.0 1304.8L1495.3 1305.7L1495.6 1306.7L1495.9 1307.6L1496.1 1308.6L1496.4 1309.6L1496.7 1310.5L1497.0 1311.5L1497.3 1312.4L1497.6 1313.4L1497.9 1314.3L1498.2 1315.3L1498.6 1316.2L1498.9 1317.2L1499.2 1318.1L1499.5 1319.1L1499.8 1320.0L1500.2 1321.0L1500.5 1321.9L1500.9 1322.8L1501.2 1323.8L1501.5 1324.7L1501.9 1325.7L1502.3 1326.6L1502.6 1327.5L1503.0 1328.4L1503.4 1329.4L1503.8 1330.3L1504.2 1331.2L1504.6 1332.1L1505.1 1333.0L1505.5 1333.8L1506.0 1334.7L1506.5 1335.5L1507.1 1336.4L1507.6 1337.2L1508.2 1338.0L1508.8 1338.7L1509.4 1339.5L1510.1 1340.2L1510.7 1340.8L1511.5 1341.5L1512.2 1342.1L1513.0 1342.6L1513.9 1343.1L1514.7 1343.5L1515.6 1344.0L1516.5 1344.4L1517.5 1344.7L1518.6 1345.0L1519.3 1345.2"/>
</g>
<rect x="178.5" y="97.5" width="1341.0" height="1248.0" fill="none" stroke="#000" stroke-width="2.778" stroke-linejoin="miter"/>
<rect x="1592.60" y="116.50" width="600.60" height="183.00" rx="7.64" ry="7.64" fill="#fff" fill-opacity="0.8" stroke="#ccc" stroke-opacity="0.8" stroke-width="3.472"/>
<line x1="1607.31" y1="148.40" x2="1683.70" y2="148.40" stroke="#1f77b4" stroke-width="3.472" stroke-linecap="square"/><text class="t" x="1714.25" y="161.00">Riped</text>
<line x1="1607.31" y1="205.45" x2="1683.70" y2="205.45" stroke="#ff7f0e" stroke-width="3.472" stroke-linecap="square"/><text class="t" x="1714.25" y="218.90">UnRiped</text>
<line x1="1607.31" y1="262.00" x2="1683.70" y2="262.00" stroke="#0000ff" stroke-width="10.417" stroke-linecap="square"/><text class="t" x="1714.25" y="276.00">all classes 0.81 at 0.348</text>
</svg>
</body>
</html>
